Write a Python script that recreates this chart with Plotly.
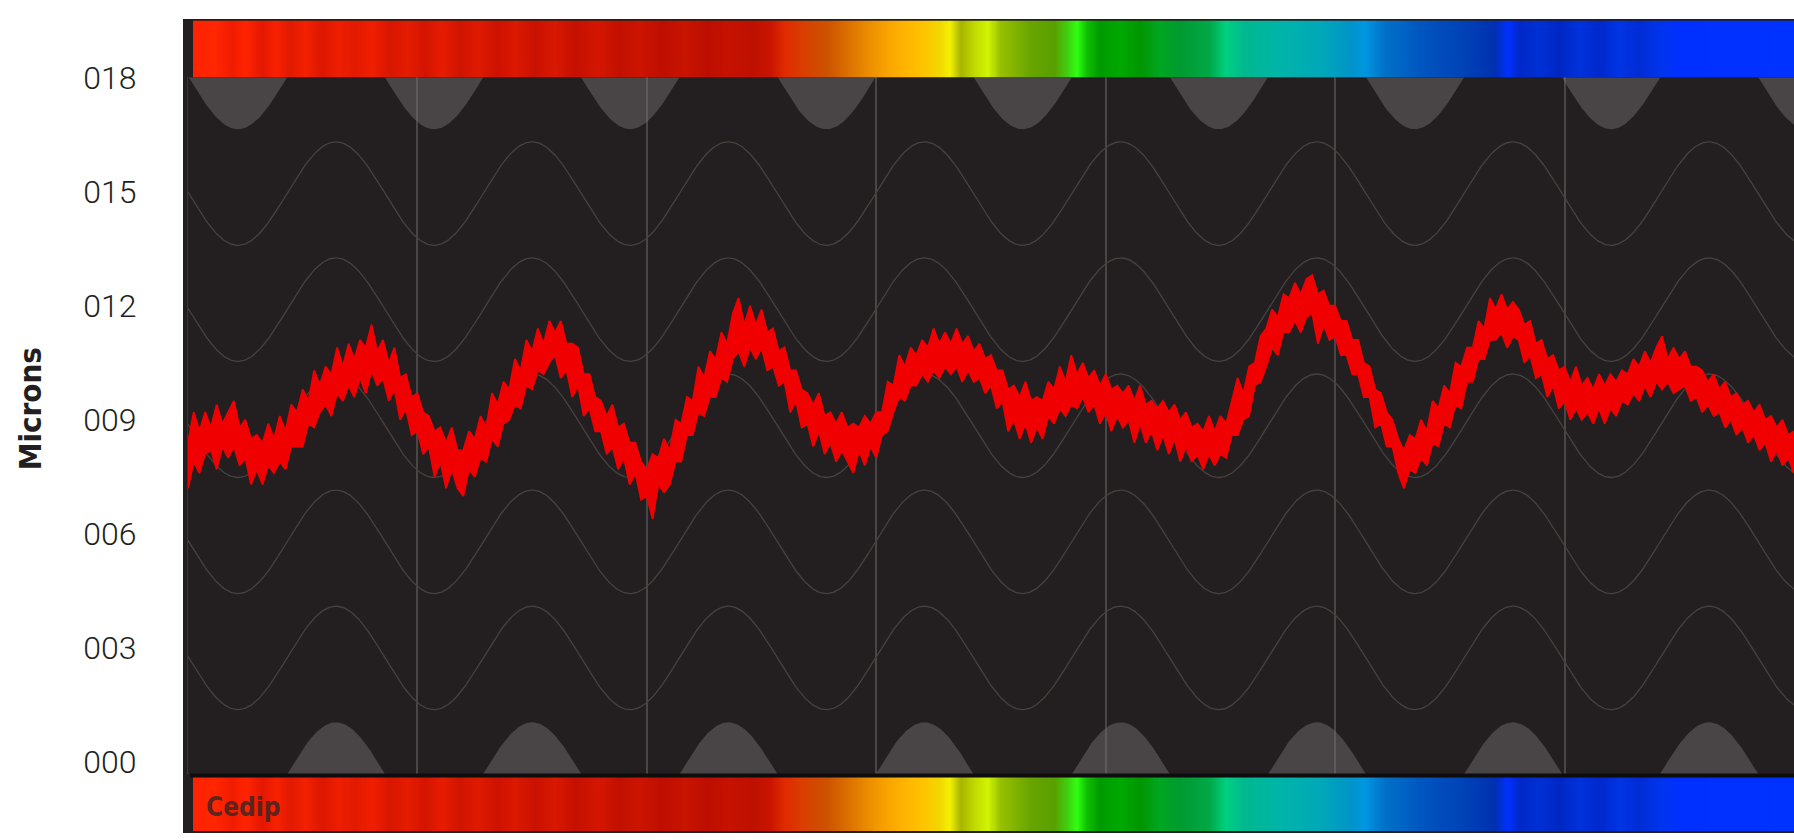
import numpy as np
import plotly.graph_objects as go

# ---------------- data ----------------
y_tick_values = [0, 3, 6, 9, 12, 15, 18]
y_tick_labels = ["000", "003", "006", "009", "012", "015", "018"]
y_axis_title = "Microns"
brand_label = "Cedip"

# red measured signal: upper and lower edge of the noisy band (microns), equally spaced samples
signal_upper = [
    8.4, 9.2, 8.7, 9.2, 8.8, 9.4, 8.9, 9.2, 9.5, 8.8, 9.0, 8.5, 8.6, 8.4, 8.9, 8.5,
    9.1, 8.7, 9.4, 9.2, 9.8, 9.5, 10.3, 9.9, 10.4, 10.2, 10.9, 10.4, 11.0, 10.6, 11.1, 10.9,
    11.5, 10.8, 11.1, 10.5, 10.9, 10.1, 10.2, 9.6, 9.7, 9.2, 9.1, 8.7, 8.8, 8.4, 8.8, 8.2,
    8.2, 8.7, 8.5, 9.1, 8.8, 9.7, 9.4, 10.0, 9.8, 10.6, 10.3, 11.1, 10.8, 11.4, 11.0, 11.6,
    11.3, 11.6, 11.0, 11.0, 10.9, 10.2, 10.2, 9.6, 9.5, 9.1, 9.4, 8.8, 8.9, 8.4, 8.4, 7.9,
    7.7, 8.1, 8.0, 8.5, 8.2, 9.0, 8.9, 9.6, 9.5, 10.4, 10.1, 10.8, 10.6, 11.3, 11.0, 11.8,
    12.2, 11.5, 12.0, 11.5, 11.9, 11.3, 11.4, 10.8, 10.9, 10.3, 10.3, 9.8, 9.7, 9.4, 9.7, 9.1,
    9.2, 8.9, 9.2, 8.8, 8.9, 8.8, 9.1, 8.9, 9.2, 9.2, 10.0, 9.9, 10.7, 10.4, 10.9, 10.7,
    11.1, 10.9, 11.4, 11.0, 11.3, 11.0, 11.4, 11.0, 11.2, 10.8, 11.0, 10.6, 10.7, 10.3, 10.3, 9.8,
    9.9, 9.6, 10.0, 9.5, 9.6, 9.5, 10.0, 9.8, 10.4, 10.0, 10.7, 10.2, 10.5, 10.1, 10.3, 9.9,
    10.2, 9.8, 9.9, 9.7, 9.9, 9.5, 9.9, 9.4, 9.5, 9.3, 9.5, 9.2, 9.4, 9.0, 9.2, 8.8,
    8.9, 8.7, 9.1, 8.7, 9.1, 8.9, 9.5, 10.1, 9.7, 10.4, 10.5, 11.2, 11.4, 11.9, 11.7, 12.3,
    12.2, 12.6, 12.3, 12.7, 12.8, 12.3, 12.4, 12.0, 12.0, 11.6, 11.6, 11.1, 11.1, 10.5, 10.4, 9.8,
    9.7, 9.2, 9.0, 8.5, 8.2, 8.6, 8.5, 9.0, 8.7, 9.5, 9.3, 9.9, 9.7, 10.5, 10.4, 10.9,
    10.9, 11.6, 11.4, 12.2, 11.9, 12.3, 11.9, 12.1, 11.9, 11.5, 11.6, 11.0, 11.1, 10.6, 10.7, 10.3,
    10.4, 10.0, 10.4, 9.9, 10.1, 9.8, 10.2, 9.9, 10.2, 10.0, 10.3, 10.2, 10.6, 10.4, 10.8, 10.5,
    10.9, 11.2, 10.6, 10.9, 10.6, 10.8, 10.4, 10.4, 10.3, 10.0, 10.2, 9.8, 10.0, 9.6, 9.7, 9.4,
    9.5, 9.2, 9.4, 9.0, 9.1, 8.8, 9.0, 8.6, 8.7,
]
signal_lower = [
    7.2, 7.9, 7.6, 8.1, 8.2, 7.7, 8.3, 8.0, 8.3, 7.8, 8.0, 7.3, 7.7, 7.3, 7.8, 7.6,
    7.9, 7.7, 8.3, 8.3, 8.3, 8.9, 8.8, 9.2, 9.4, 9.1, 9.7, 9.5, 9.9, 9.6, 10.1, 9.7,
    10.3, 9.9, 10.1, 9.5, 9.8, 9.0, 9.3, 8.6, 8.7, 8.1, 8.3, 7.5, 7.9, 7.2, 7.7, 7.2,
    7.0, 7.7, 7.5, 8.0, 7.9, 8.5, 8.3, 8.9, 9.0, 9.4, 9.3, 9.9, 9.8, 10.3, 10.2, 10.5,
    10.7, 10.1, 10.3, 9.6, 9.9, 9.1, 9.3, 8.7, 8.7, 8.1, 8.3, 7.7, 8.0, 7.3, 7.6, 6.9,
    7.0, 6.4, 7.3, 7.1, 7.3, 7.9, 7.9, 8.6, 8.6, 9.2, 9.1, 9.6, 9.6, 10.1, 10.0, 10.6,
    10.8, 10.4, 10.9, 10.6, 10.9, 10.3, 10.4, 9.9, 10.0, 9.2, 9.5, 8.8, 8.9, 8.3, 8.7, 8.1,
    8.4, 7.9, 8.2, 7.9, 7.6, 8.2, 7.8, 8.3, 8.0, 8.6, 8.7, 9.2, 9.6, 9.5, 9.9, 9.9,
    10.2, 10.0, 10.3, 10.1, 10.4, 10.2, 10.4, 10.0, 10.3, 10.0, 10.1, 9.7, 9.9, 9.3, 9.5, 8.7,
    9.0, 8.5, 8.9, 8.4, 8.8, 8.5, 9.1, 8.9, 9.3, 9.1, 9.4, 9.3, 9.6, 9.2, 9.4, 8.9,
    9.2, 8.7, 9.1, 8.8, 9.0, 8.4, 8.9, 8.4, 8.7, 8.2, 8.6, 8.1, 8.5, 7.9, 8.3, 7.9,
    8.1, 7.7, 8.1, 7.8, 8.1, 8.0, 8.6, 8.6, 9.0, 9.1, 9.9, 10.0, 10.4, 10.9, 10.7, 11.3,
    11.3, 11.6, 11.3, 11.7, 11.8, 11.0, 11.5, 11.1, 11.2, 10.7, 10.7, 10.2, 10.2, 9.6, 9.6, 8.8,
    8.9, 8.3, 8.3, 7.6, 7.2, 7.7, 7.6, 8.0, 7.8, 8.4, 8.3, 8.9, 8.8, 9.4, 9.3, 10.0,
    10.0, 10.6, 10.6, 11.1, 11.1, 11.3, 10.9, 11.2, 11.1, 10.5, 10.7, 10.1, 10.2, 9.6, 9.9, 9.3,
    9.5, 9.0, 9.3, 9.0, 9.2, 8.9, 9.3, 8.9, 9.3, 9.1, 9.5, 9.4, 9.7, 9.5, 9.9, 9.6,
    10.0, 9.8, 10.0, 9.7, 9.8, 9.9, 9.5, 9.6, 9.2, 9.4, 9.1, 9.2, 8.8, 9.0, 8.6, 8.8,
    8.4, 8.6, 8.2, 8.4, 7.9, 8.2, 7.8, 8.0, 7.6,
]
assert len(signal_upper) == len(signal_lower)

# spectrum strip (decorative): stop positions along the strip and their colours
spectrum = [
    (0.0000, "#ff2200"), (0.0137, "#ff2600"), (0.0244, "#f01c00"), (0.0325, "#ff2400"),
    (0.0431, "#e41800"), (0.0518, "#f82000"), (0.0606, "#e01a00"), (0.0700, "#f42000"),
    (0.0806, "#dc1600"), (0.0906, "#ee1e00"), (0.1012, "#e21a00"), (0.1118, "#f01e00"),
    (0.1230, "#d81600"), (0.1343, "#e41c00"), (0.1449, "#d41400"), (0.1555, "#e61c00"),
    (0.1668, "#d01400"), (0.1780, "#e01a00"), (0.1899, "#cc1200"), (0.2011, "#dc1800"),
    (0.2136, "#c81200"), (0.2261, "#d81800"), (0.2386, "#c41000"), (0.2530, "#d41600"),
    (0.2667, "#c21000"), (0.2792, "#cc1400"), (0.2929, "#be0e00"), (0.3073, "#c81400"),
    (0.3217, "#bc0e00"), (0.3354, "#c61200"), (0.3492, "#be1000"), (0.3604, "#c81400"),
    (0.3698, "#e02a00"), (0.3820, "#d84000"), (0.3950, "#cc5000"), (0.4070, "#d86a00"),
    (0.4200, "#e88800"), (0.4320, "#f8a000"), (0.4450, "#ffb400"), (0.4570, "#ffc400"),
    (0.4670, "#f0d800"), (0.4730, "#f4f000"), (0.4800, "#a8b400"), (0.4880, "#c0d800"),
    (0.4970, "#d0f400"), (0.5040, "#98c000"), (0.5230, "#68a400"), (0.5380, "#58a000"),
    (0.5460, "#40d010"), (0.5520, "#30ff10"), (0.5580, "#10c000"), (0.5663, "#009a00"),
    (0.5788, "#00a800"), (0.5913, "#009600"), (0.6037, "#00a620"), (0.6162, "#009a30"),
    (0.6287, "#00a440"), (0.6350, "#00a848"), (0.6450, "#00d080"), (0.6570, "#00b890"),
    (0.6790, "#00b4a8"), (0.7040, "#00a8b8"), (0.7230, "#0094c8"), (0.7320, "#0096e0"),
    (0.7445, "#0070c8"), (0.7570, "#0062c4"), (0.7664, "#0056c0"), (0.7789, "#004cbc"),
    (0.7914, "#0044b8"), (0.8026, "#003ab4"), (0.8132, "#0030b0"), (0.8214, "#0030ff"),
    (0.8289, "#0028c8"), (0.8414, "#0030d4"), (0.8539, "#0026c4"), (0.8663, "#0032dc"),
    (0.8788, "#0028cc"), (0.8913, "#0034e4"), (0.9038, "#002cd4"), (0.9163, "#0034ec"),
    (0.9288, "#0030ff"), (1.0000, "#0032ff"),
]

# ---------------- geometry / style ----------------
W = 1794
FIG_TOP, FIG_H = 17.5, 814.5       # where the rendered figure sits in the 840-px photo
PANEL_X0 = 188
PANEL_TOP, PANEL_BOT = 76, 773
BAR_TOP = (19, 76)
BAR_BOT = (776, 830)
BG = "#231f20"
DECO = "#46423f"
RED = "#f00000"
Y_RANGE = [-0.31, 18.0]
X_RANGE = [0, 7]
SANS = "DejaVu Sans Condensed, Roboto, sans-serif"


def py(p):  # photo pixel row -> paper y
    return min(1.0, max(0.0, 1 - (p - FIG_TOP) / FIG_H))


fig = go.Figure()

# decorative background waves
wave_period, wave_phase, wave_amp = 0.855, 0.645, 1.36
xs = np.linspace(X_RANGE[0], X_RANGE[1], 1400)
centers = np.linspace(Y_RANGE[1], Y_RANGE[0], 7)
for i, c in enumerate(centers):
    yw = c + wave_amp * np.cos(2 * np.pi * (xs - wave_phase) / wave_period)
    if i in (0, len(centers) - 1):
        cap = 25 if i == 0 else -25
        fig.add_trace(go.Scatter(x=list(xs) + [7, 0], y=list(yw) + [cap, cap], fill="toself",
                                 fillcolor="rgba(120,114,115,0.45)", line=dict(width=0),
                                 mode="lines", hoverinfo="skip", showlegend=False))
    else:
        fig.add_trace(go.Scatter(x=xs, y=yw, mode="lines", line=dict(color=DECO, width=1.3),
                                 hoverinfo="skip", showlegend=False))

# red signal band
xsig = np.linspace(X_RANGE[0], X_RANGE[1], len(signal_upper))
fig.add_trace(go.Scatter(x=xsig, y=signal_lower, mode="lines",
                         line=dict(color=RED, width=1.8), showlegend=False, name="lower"))
fig.add_trace(go.Scatter(x=xsig, y=signal_upper, mode="lines", fill="tonexty", fillcolor=RED,
                         line=dict(color=RED, width=1.8), showlegend=False, name="upper"))

# spectrum strips
colorscale = [[p, c] for p, c in spectrum]
zrow = [list(np.linspace(0, 1, 1600))]
for xa, ya in (("x2", "y2"), ("x3", "y3")):
    fig.add_trace(go.Heatmap(z=zrow, colorscale=colorscale, zmin=0, zmax=1, showscale=False,
                             xaxis=xa, yaxis=ya, hoverinfo="skip"))

tick_font = dict(family="Roboto, DejaVu Sans Condensed, sans-serif", size=32, color=BG,
                 weight=300)

fig.update_layout(
    autosize=True,
    margin=dict(l=0, r=0, t=0, b=0, pad=0),
    paper_bgcolor="white", plot_bgcolor=BG,
    xaxis=dict(domain=[PANEL_X0 / W, 1], range=X_RANGE, showticklabels=False, ticks="",
               showgrid=True, dtick=1, gridcolor="#4a4646", gridwidth=1.5, zeroline=False,
               showline=False),
    yaxis=dict(domain=[py(PANEL_BOT), py(PANEL_TOP)], range=Y_RANGE, tickmode="array",
               tickvals=y_tick_values, ticktext=y_tick_labels, tickfont=tick_font,
               ticks="", showgrid=False, zeroline=False, showline=True, linecolor="#3a3636",
               linewidth=1, ticklabelstandoff=44),
    xaxis2=dict(domain=[193 / W, 1], visible=False, anchor="y2"),
    yaxis2=dict(domain=[py(BAR_TOP[1]), py(BAR_TOP[0])], visible=False, anchor="x2"),
    xaxis3=dict(domain=[193 / W, 1], visible=False, anchor="y3"),
    yaxis3=dict(domain=[py(BAR_BOT[1]), py(BAR_BOT[0])], visible=False, anchor="x3"),
    shapes=[
        dict(type="rect", xref="paper", yref="paper", x0=183 / W, x1=1,
             y0=0, y1=1, fillcolor=BG, line=dict(width=0), layer="below"),
        dict(type="line", xref="paper", yref="paper", x0=190 / W, x1=1,
             y0=py(774.5), y1=py(774.5), line=dict(color="#0e0c0c", width=4), layer="above"),
    ],
    annotations=[
        dict(text=y_axis_title, xref="paper", yref="paper", x=30 / W, y=py(408),
             textangle=-90, showarrow=False, xanchor="center", yanchor="middle",
             font=dict(family=SANS, size=31, color=BG, weight="bold")),
        dict(text=brand_label, xref="paper", yref="paper", x=204 / W, y=py(806),
             showarrow=False, xanchor="left", yanchor="middle",
             font=dict(family=SANS, size=26, color="rgba(50,38,38,0.8)", weight="bold")),
    ],
)

post = ("document.documentElement.style.height='100%';"
        "document.body.style.margin='0';document.body.style.height='100%';"
        "document.body.style.overflow='hidden';"
        "var gd=document.getElementById('{plot_id}');"
        "gd.style.width='100vw';gd.style.height='100vh';Plotly.Plots.resize(gd);")
fig.write_html("out.html", config={"displayModeBar": False, "responsive": True},
               default_width="100vw", default_height="100vh", post_script=post)
